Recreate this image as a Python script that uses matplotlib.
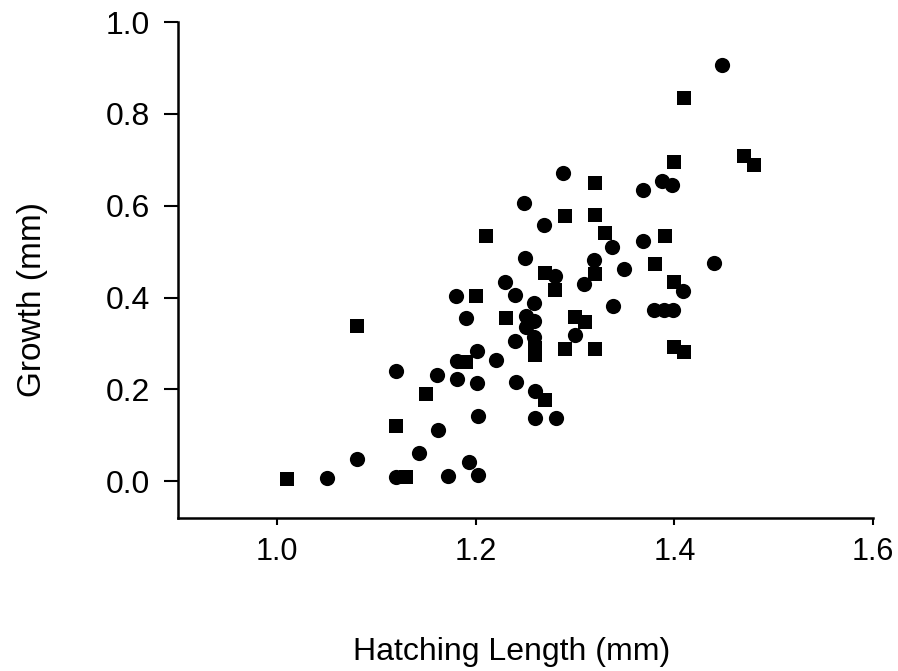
import numpy as np
import matplotlib
matplotlib.use('Agg')
import matplotlib.pyplot as plt

plt.rcParams['font.family'] = ['Liberation Sans', 'DejaVu Sans']

# squares (first group)
sq_x = [1.01, 1.08, 1.12, 1.13, 1.15, 1.19, 1.20, 1.21, 1.23, 1.26, 1.26,
        1.27, 1.27, 1.28, 1.29, 1.29, 1.30, 1.31, 1.32, 1.32, 1.32, 1.32,
        1.33, 1.38, 1.39, 1.40, 1.40, 1.40, 1.41, 1.41, 1.47, 1.48]
sq_y = [0.005, 0.338, 0.12, 0.01, 0.19, 0.26, 0.403, 0.534, 0.355, 0.29, 0.275,
        0.453, 0.176, 0.416, 0.577, 0.288, 0.357, 0.347, 0.58, 0.65, 0.451, 0.288,
        0.54, 0.473, 0.534, 0.434, 0.695, 0.292, 0.834, 0.281, 0.708, 0.688]

# circles (second group)
ci_x = [1.05, 1.08, 1.12, 1.12, 1.143, 1.162, 1.161, 1.172, 1.181, 1.181,
        1.18, 1.19, 1.193, 1.202, 1.202, 1.201, 1.201, 1.22, 1.229, 1.239,
        1.239, 1.24, 1.248, 1.249, 1.251, 1.251, 1.259, 1.259, 1.259, 1.26,
        1.26, 1.269, 1.28, 1.281, 1.288, 1.30, 1.309, 1.319, 1.337, 1.338,
        1.349, 1.368, 1.368, 1.387, 1.398, 1.379, 1.389, 1.399, 1.409, 1.44,
        1.448]
ci_y = [0.007, 0.048, 0.009, 0.24, 0.061, 0.111, 0.231, 0.011, 0.261, 0.222,
        0.403, 0.355, 0.041, 0.013, 0.142, 0.214, 0.283, 0.264, 0.434, 0.405,
        0.305, 0.216, 0.606, 0.486, 0.359, 0.336, 0.388, 0.35, 0.314, 0.196,
        0.137, 0.558, 0.447, 0.137, 0.671, 0.318, 0.429, 0.481, 0.51, 0.381,
        0.462, 0.634, 0.523, 0.654, 0.645, 0.373, 0.373, 0.373, 0.414, 0.475,
        0.906]

x_ticks = [1.0, 1.2, 1.4, 1.6]
y_ticks = [0.0, 0.2, 0.4, 0.6, 0.8, 1.0]

fig = plt.figure(figsize=(8.98, 6.71), dpi=100)
ax = fig.add_axes([178/898, 1 - 518/671, (873-178)/898, (518-22)/671])

ax.scatter(ci_x, ci_y, s=120, marker='o', color='black', linewidths=0, zorder=3)
ax.scatter(sq_x, sq_y, s=90, marker='s', color='black', linewidths=0, zorder=3)

ax.set_xlim(0.9, 1.6)
ax.set_ylim(-0.08, 1.0)
ax.set_xticks(x_ticks)
ax.set_yticks(y_ticks)
ax.set_xticklabels([f'{v:.1f}' for v in x_ticks])
ax.set_yticklabels([f'{v:.1f}' for v in y_ticks])

for s in ['top', 'right']:
    ax.spines[s].set_visible(False)
for s in ['left', 'bottom']:
    ax.spines[s].set_linewidth(1.8)

ax.tick_params(axis='y', direction='out', length=10, width=1.5, labelsize=23, pad=10)
ax.tick_params(axis='x', direction='out', length=5, width=1.5, labelsize=22, pad=9)

ax.set_xlabel('Hatching Length (mm)', fontsize=23, va='center')
ax.set_ylabel('Growth (mm)', fontsize=24, va='center')
ax.xaxis.set_label_coords(0.48, -0.27)
ax.yaxis.set_label_coords(-0.21, 0.44)

plt.savefig('out.png', dpi=100)
